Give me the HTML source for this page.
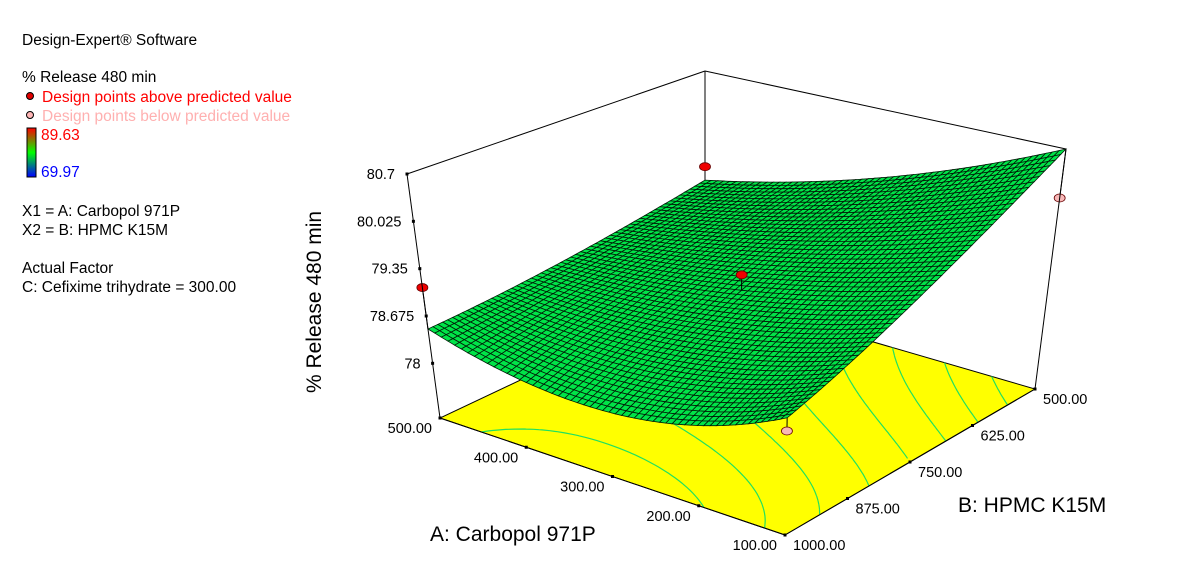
<!DOCTYPE html>
<html><head><meta charset="utf-8"><style>
body{margin:0;background:#fff;}
svg text{font-family:"Liberation Sans",Arial,sans-serif;}
</style></head><body>
<svg id="chart" width="1187" height="576" viewBox="0 0 1187 576" xmlns="http://www.w3.org/2000/svg">
<defs><linearGradient id="cbar" x1="0" y1="1" x2="0" y2="0"><stop offset="0" stop-color="#0000ff"/><stop offset="0.5" stop-color="#00ff00"/><stop offset="1" stop-color="#ff0000"/></linearGradient></defs>
<g font-size="15.5">
<text x="22" y="45" fill="#000">Design-Expert® Software</text>
<text x="22" y="82" fill="#000">% Release 480 min</text>
<circle cx="30" cy="96" r="3.5" fill="#e00000" stroke="#000" stroke-width="1"/>
<text x="42" y="102" fill="#ff0000">Design points above predicted value</text>
<circle cx="30" cy="115" r="3.5" fill="#ffb6b6" stroke="#000" stroke-width="1"/>
<text x="42" y="121" fill="#ffb0b0">Design points below predicted value</text>
<rect x="27" y="128" width="9" height="49" fill="url(#cbar)" stroke="#000"/>
<text x="41" y="140" fill="#ff0000">89.63</text>
<text x="41" y="177" fill="#0000ff">69.97</text>
<text x="22" y="216" fill="#000">X1 = A: Carbopol 971P</text>
<text x="22" y="235" fill="#000">X2 = B: HPMC K15M</text>
<text x="22" y="273" fill="#000">Actual Factor</text>
<text x="22" y="292" fill="#000">C: Cefixime trihydrate = 300.00</text>
</g>
<g id="plot"></g>
</svg>
<script>
const aLevels=[500,300,100];
const bLevels=[500,750,1000];
const zA500=[78.99,78.65,78.49];
const zA300=[79.68,78.91,78.09];
const zA100=[80.7,79.50,78.73];
const zTicks=[78,78.675,79.35,80.025,80.7];
const aTicks=[500,400,300,200,100];
const bTicks=[500,625,750,875,1000];
const abovePts=[[500,500,79.20],[300,750,79.13],[500,1000,79.08]];
const belowPts=[[100,1000,78.56],[100,500,79.99]];
const ZMIN=77.22,ZMAX=80.7;
const NS='http://www.w3.org/2000/svg';
const g=document.getElementById('plot');
const F={b:[705,293],r:[1035,389],l:[440,418],f:[785,535]};
const T={b:[705,71],r:[1066,149],l:[407,174],f:[790,265]};
function bil(C,u,v){return [0,1].map(i=>C.b[i]*(1-u)*(1-v)+C.r[i]*u*(1-v)+C.l[i]*(1-u)*v+C.f[i]*u*v);}
function proj(a,b,z){const u=(500-a)/400,v=(b-500)/500;const p=bil(F,u,v),q=bil(T,u,v);const t=(z-ZMIN)/(ZMAX-ZMIN);return [p[0]+(q[0]-p[0])*t,p[1]+(q[1]-p[1])*t];}
function lag(xs,ys,x){let s=0;for(let i=0;i<3;i++){let l=1;for(let j=0;j<3;j++)if(j!==i)l*=(x-xs[j])/(xs[i]-xs[j]);s+=l*ys[i];}return s;}
function zf(a,b){const rows=[zA500,zA300,zA100].map(r=>lag(bLevels,r,b));return lag(aLevels,rows,a);}
function el(tag,attrs,name,inter){const e=document.createElementNS(NS,tag);for(const k in attrs)e.setAttribute(k,attrs[k]);


g.appendChild(e);return e;}
function pts(arr){return arr.map(p=>p[0].toFixed(1)+','+p[1].toFixed(1)).join(' ');}
el('line',{x1:705,y1:71,x2:705,y2:293,stroke:'#000','stroke-width':1},'back-vertical-edge','false');
el('polygon',{points:pts([F.b,F.r,F.f,F.l]),fill:'#ffff00',stroke:'#000','stroke-width':1},'floor-contour-plane','false');
const NC=60;const levels=[78.3,78.6,78.9,79.2,79.5,79.8,80.1,80.4];
levels.forEach(L=>{let d='';for(let i=0;i<NC;i++)for(let j=0;j<NC;j++){const a0=500-400*i/NC,a1=500-400*(i+1)/NC,b0=500+500*j/NC,b1=500+500*(j+1)/NC;
const c=[[a0,b0],[a1,b0],[a1,b1],[a0,b1]];const zs=c.map(p=>zf(p[0],p[1]));const cr=[];
for(let k=0;k<4;k++){const m=(k+1)%4;if((zs[k]-L)*(zs[m]-L)<0){const t=(L-zs[k])/(zs[m]-zs[k]);cr.push(proj(c[k][0]+(c[m][0]-c[k][0])*t,c[k][1]+(c[m][1]-c[k][1])*t,ZMIN));}}
if(cr.length>=2)d+='M'+cr[0][0].toFixed(1)+','+cr[0][1].toFixed(1)+'L'+cr[1][0].toFixed(1)+','+cr[1][1].toFixed(1);}
if(d)el('path',{d:d,stroke:'#20e060',fill:'none','stroke-width':1.2},'floor-contour-line','false');});
const N=56;const quads=[];
for(let i=0;i<N;i++)for(let j=0;j<N;j++){const a0=500-400*i/N,a1=500-400*(i+1)/N,b0=500+500*j/N,b1=500+500*(j+1)/N;
const P=[proj(a0,b0,zf(a0,b0)),proj(a1,b0,zf(a1,b0)),proj(a1,b1,zf(a1,b1)),proj(a0,b1,zf(a0,b1))];
const fc=bil(F,(i+.5)/N,(j+.5)/N);quads.push({P:P,d:fc[1]});}
quads.sort((x,y)=>x.d-y.d);
quads.forEach(q=>{el('polygon',{points:pts(q.P),fill:'#00e448',stroke:'#001a06','stroke-width':0.8},'surface-cell','false');});
function dpt(p,fill,name){const s=proj(p[0],p[1],p[2]);const sf=proj(p[0],p[1],zf(p[0],p[1]));
el('line',{x1:s[0],y1:s[1],x2:sf[0],y2:sf[1],stroke:'#000','stroke-width':1},name+'-stem','false');
el('ellipse',{cx:s[0],cy:s[1],rx:5.5,ry:4,fill:fill,stroke:'#600','stroke-width':0.8},name,'true');}
abovePts.forEach(p=>dpt(p,'#ee0000','design-point-above'));
belowPts.forEach(p=>dpt(p,'#f8b8b8','design-point-below'));
[[T.l,T.b],[T.b,T.r],[T.r,F.r],[T.l,F.l],[F.l,F.f],[F.f,F.r]].forEach(s=>el('line',{x1:s[0][0],y1:s[0][1],x2:s[1][0],y2:s[1][1],stroke:'#000','stroke-width':1},'box-edge','false'));
zTicks.forEach(z=>{const p=proj(500,1000,z);el('rect',{x:p[0]-1.5,y:p[1]-1.5,width:3,height:3,fill:'#000'},'z-tick','false');
const t=el('text',{x:p[0]-12,y:p[1]+5,'text-anchor':'end','font-size':14.5,fill:'#000'},'z-tick-label','false');t.textContent=String(z);});
aTicks.forEach(a=>{const p=proj(a,1000,ZMIN);el('rect',{x:p[0]-1.5,y:p[1]-1.5,width:3,height:3,fill:'#000'},'a-tick','false');
const t=el('text',{x:p[0]-8,y:p[1]+15,'text-anchor':'end','font-size':14.5,fill:'#000'},'a-tick-label','false');t.textContent=a.toFixed(2);});
bTicks.forEach(b=>{const p=proj(100,b,ZMIN);el('rect',{x:p[0]-1.5,y:p[1]-1.5,width:3,height:3,fill:'#000'},'b-tick','false');
const t=el('text',{x:p[0]+8,y:p[1]+15,'text-anchor':'start','font-size':14.5,fill:'#000'},'b-tick-label','false');t.textContent=b.toFixed(2);});
let t=el('text',{x:0,y:0,'font-size':21,'text-anchor':'middle',transform:'translate(321,302) rotate(-90)',fill:'#000'},'z-axis-title','false');t.textContent='% Release 480 min';
t=el('text',{x:430,y:541,'font-size':21,fill:'#000'},'a-axis-title','false');t.textContent='A: Carbopol 971P';
t=el('text',{x:958,y:512,'font-size':21,fill:'#000'},'b-axis-title','false');t.textContent='B: HPMC K15M';
</script>
</body></html>
